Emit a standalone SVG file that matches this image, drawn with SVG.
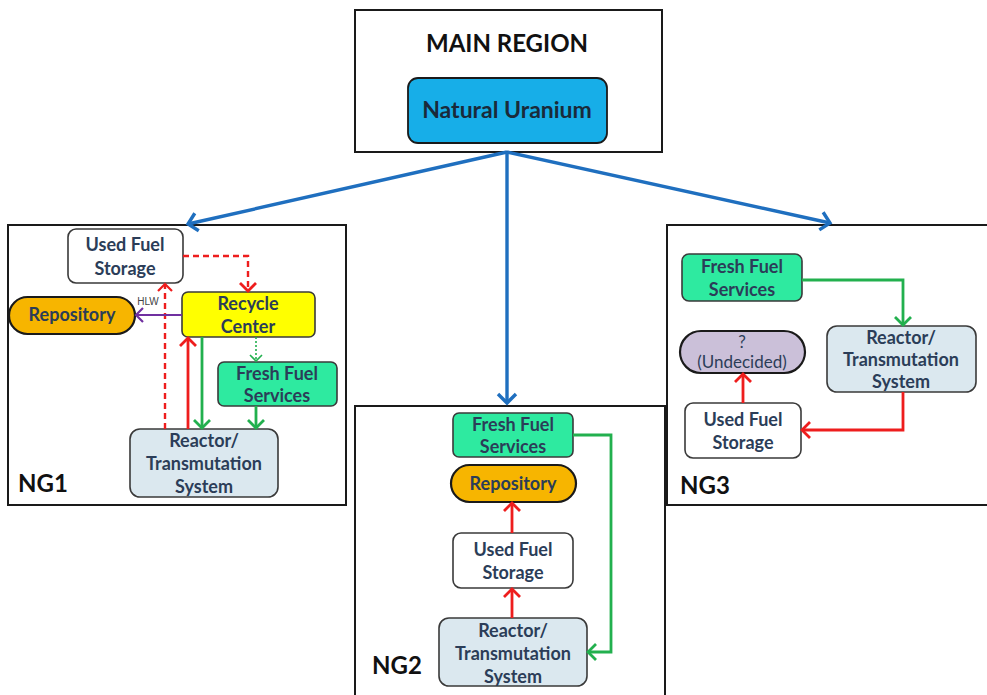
<svg xmlns="http://www.w3.org/2000/svg" width="987" height="695" viewBox="0 0 987 695">
<defs>
<style>
.region{fill:#fff;stroke:#1a1a1a;stroke-width:2}
.node{stroke:#3a3a3a;stroke-width:1.6}
.white{fill:#fff}
.yellow{fill:#ffff00}
.orange{fill:#f7b500;stroke:#1a1a1a;stroke-width:2.2}
.green{fill:#2eeaa0}
.lblue{fill:#dbe8ef}
.purple{fill:#cbc0d9;stroke:#1a1a1a;stroke-width:2.2}
.uran{fill:#17aee8;stroke:#1a1a1a;stroke-width:1.8}
.t{font-family:Lato,"Open Sans","Liberation Sans",sans-serif;font-weight:bold;font-size:18px;fill:#2b3d58;text-anchor:middle}
.tl{font-family:Lato,"Open Sans","Liberation Sans",sans-serif;font-size:17px;fill:#2b3d58;text-anchor:middle}
.ng{font-family:Lato,"Open Sans","Liberation Sans",sans-serif;font-weight:bold;font-size:24px;fill:#111}
.c{fill:none}
.blue{stroke:#1f6fbf;stroke-width:3.4}
.red{stroke:#ee1d1d;stroke-width:2.8}
.redd{stroke:#ee1d1d;stroke-width:2.4;stroke-dasharray:6 4}
.grn{stroke:#22b04e;stroke-width:2.8}
.grnd{stroke:#22b04e;stroke-width:1.6;stroke-dasharray:2 2}
.pur{stroke:#7030a0;stroke-width:2.2}
</style>
<marker id="mb" markerUnits="userSpaceOnUse" markerWidth="24" markerHeight="24" refX="14" refY="12" orient="auto" viewBox="0 0 24 24"><path d="M5,3 L14,12 L5,21" fill="none" stroke="#1f6fbf" stroke-width="3.4"/></marker>
<marker id="mr" markerUnits="userSpaceOnUse" markerWidth="24" markerHeight="24" refX="14" refY="12" orient="auto" viewBox="0 0 24 24"><path d="M6,4 L14,12 L6,20" fill="none" stroke="#ee1d1d" stroke-width="2.8"/></marker>
<marker id="mrs" markerUnits="userSpaceOnUse" markerWidth="24" markerHeight="24" refX="14" refY="12" orient="auto" viewBox="0 0 24 24"><path d="M7,5 L14,12 L7,19" fill="none" stroke="#ee1d1d" stroke-width="2.2"/></marker>
<marker id="mg" markerUnits="userSpaceOnUse" markerWidth="24" markerHeight="24" refX="14" refY="12" orient="auto" viewBox="0 0 24 24"><path d="M6,4 L14,12 L6,20" fill="none" stroke="#22b04e" stroke-width="2.8"/></marker>
<marker id="mgs" markerUnits="userSpaceOnUse" markerWidth="24" markerHeight="24" refX="14" refY="12" orient="auto" viewBox="0 0 24 24"><path d="M8,6 L14,12 L8,18" fill="none" stroke="#22b04e" stroke-width="1.6"/></marker>
<marker id="mp" markerUnits="userSpaceOnUse" markerWidth="24" markerHeight="24" refX="14" refY="12" orient="auto" viewBox="0 0 24 24"><path d="M7,5 L14,12 L7,19" fill="none" stroke="#7030a0" stroke-width="2.2"/></marker>
</defs>
<rect width="987" height="695" fill="#fff"/>

<g id="main-region">
<rect class="region" x="355" y="10" width="307" height="142"/>
<text x="507" y="52" text-anchor="middle" style="font-family:Lato,'Open Sans','Liberation Sans',sans-serif;font-weight:bold;font-size:24px;fill:#111">MAIN REGION</text>
</g>
<g id="natural-uranium">
<rect class="uran" x="408" y="78" width="199" height="65" rx="10"/>
<text x="507" y="118" text-anchor="middle" style="font-family:Lato,'Open Sans','Liberation Sans',sans-serif;font-weight:bold;font-size:23px;fill:#1a2a3a">Natural Uranium</text>
</g>

<g id="ng1">
<rect class="region" x="8" y="225" width="338" height="280"/>
<text class="ng" x="18" y="492">NG1</text>
</g>
<g id="ng2">
<rect class="region" x="355" y="406" width="310" height="300"/>
<text class="ng" x="372" y="674">NG2</text>
</g>
<g id="ng3">
<rect class="region" x="667" y="225" width="330" height="280"/>
<text class="ng" x="680" y="494">NG3</text>
</g>

<g id="ng1-used-fuel">
<rect class="node white" x="68" y="229" width="115" height="54" rx="8"/>
<text class="t" x="125" y="251">Used Fuel</text>
<text class="t" x="125" y="275">Storage</text>
</g>
<g id="ng1-repository">
<rect class="orange" x="9" y="297" width="126" height="37" rx="18.5"/>
<text class="t" x="72" y="321">Repository</text>
</g>
<g id="ng1-recycle">
<rect class="node yellow" x="182" y="292" width="133" height="45" rx="6"/>
<text class="t" x="248" y="310">Recycle</text>
<text class="t" x="248" y="333">Center</text>
</g>
<g id="ng1-fresh-fuel">
<rect class="node green" x="218" y="362" width="119" height="44" rx="6"/>
<text class="t" x="277" y="380">Fresh Fuel</text>
<text class="t" x="277" y="402">Services</text>
</g>
<g id="ng1-reactor">
<rect class="node lblue" x="130" y="429" width="148" height="68" rx="10"/>
<text class="t" x="204" y="447">Reactor/</text>
<text class="t" x="204" y="470">Transmutation</text>
<text class="t" x="204" y="493">System</text>
</g>

<g id="ng2-fresh-fuel">
<rect class="node green" x="453" y="413" width="120" height="44" rx="6"/>
<text class="t" x="513" y="431">Fresh Fuel</text>
<text class="t" x="513" y="453">Services</text>
</g>
<g id="ng2-repository">
<rect class="orange" x="451" y="465" width="125" height="37" rx="18.5"/>
<text class="t" x="513" y="490">Repository</text>
</g>
<g id="ng2-used-fuel">
<rect class="node white" x="453" y="533" width="120" height="55" rx="8"/>
<text class="t" x="513" y="556">Used Fuel</text>
<text class="t" x="513" y="579">Storage</text>
</g>
<g id="ng2-reactor">
<rect class="node lblue" x="439" y="618" width="148" height="68" rx="10"/>
<text class="t" x="513" y="637">Reactor/</text>
<text class="t" x="513" y="660">Transmutation</text>
<text class="t" x="513" y="683">System</text>
</g>

<g id="ng3-fresh-fuel">
<rect class="node green" x="682" y="254" width="120" height="47" rx="7"/>
<text class="t" x="742" y="273">Fresh Fuel</text>
<text class="t" x="742" y="296">Services</text>
</g>
<g id="ng3-undecided">
<rect class="purple" x="680" y="331" width="125" height="42" rx="21"/>
<text class="tl" x="742" y="348">?</text>
<text class="tl" x="742" y="368">(Undecided)</text>
</g>
<g id="ng3-reactor">
<rect class="node lblue" x="827" y="326" width="149" height="66" rx="10"/>
<text class="t" x="901" y="344">Reactor/</text>
<text class="t" x="901" y="366">Transmutation</text>
<text class="t" x="901" y="388">System</text>
</g>
<g id="ng3-used-fuel">
<rect class="node white" x="685" y="403" width="116" height="55" rx="8"/>
<text class="t" x="743" y="426">Used Fuel</text>
<text class="t" x="743" y="449">Storage</text>
</g>

<g id="connectors">
<line class="c blue" x1="507" y1="152" x2="188" y2="224" marker-end="url(#mb)"/>
<line class="c blue" x1="507" y1="152" x2="507" y2="403" marker-end="url(#mb)"/>
<line class="c blue" x1="507" y1="152" x2="830" y2="223" marker-end="url(#mb)"/>

<polyline class="c redd" points="183,256 248,256 248,291" marker-end="url(#mr)"/>
<line class="c redd" x1="165" y1="429" x2="165" y2="284" marker-end="url(#mrs)"/>
<line class="c red" x1="188" y1="429" x2="188" y2="338" marker-end="url(#mr)"/>
<line class="c grn" x1="202" y1="337" x2="202" y2="428" marker-end="url(#mg)"/>
<line class="c grnd" x1="256" y1="337" x2="256" y2="361" marker-end="url(#mgs)"/>
<line class="c grn" x1="256" y1="406" x2="256" y2="428" marker-end="url(#mg)"/>
<line class="c pur" x1="182" y1="315" x2="136" y2="315" marker-end="url(#mp)"/>
<text x="148" y="305" text-anchor="middle" style="font-family:'Liberation Sans',sans-serif;font-size:10px;fill:#444">HLW</text>

<line class="c red" x1="512" y1="533" x2="512" y2="503" marker-end="url(#mr)"/>
<line class="c red" x1="512" y1="618" x2="512" y2="589" marker-end="url(#mr)"/>
<polyline class="c grn" points="573,435 611,435 611,652 588,652" marker-end="url(#mg)"/>

<polyline class="c grn" points="802,280 903,280 903,325" marker-end="url(#mg)"/>
<polyline class="c red" points="903,392 903,430 802,430" marker-end="url(#mr)"/>
<line class="c red" x1="743" y1="403" x2="743" y2="374" marker-end="url(#mr)"/>
</g>
</svg>
